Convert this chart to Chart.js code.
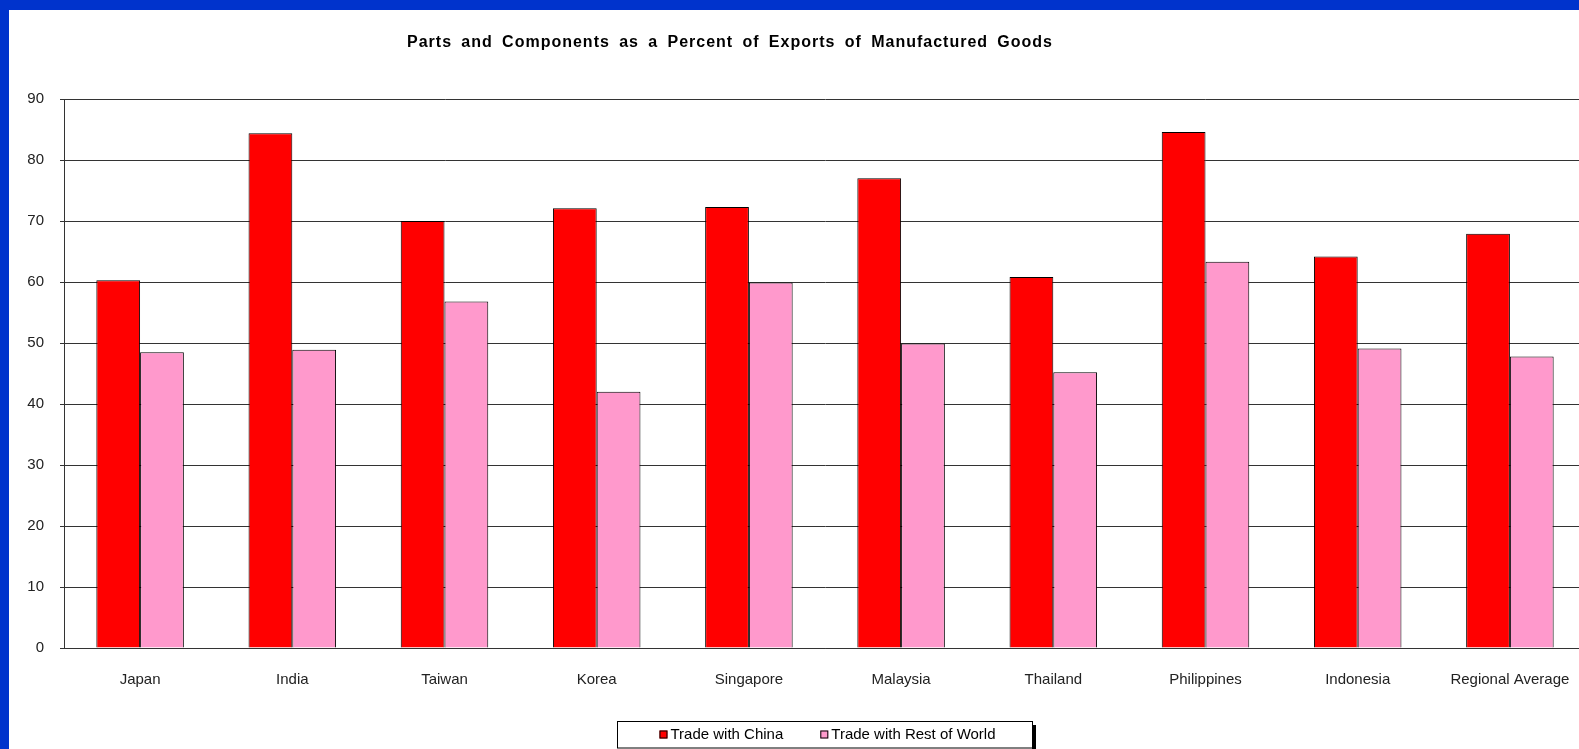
<!DOCTYPE html>
<html>
<head>
<meta charset="utf-8">
<title>Parts and Components</title>
<script src="https://cdn.jsdelivr.net/npm/chart.js@4.4.1/dist/chart.umd.min.js"></script>
<style>
  html, body { margin: 0; padding: 0; background: #0033cc; overflow: hidden; }
  #wrap { position: absolute; left: 9px; top: 10px; width: 1577px; height: 739px; background: #fff; }
</style>
</head>
<body>
<div id="wrap"><canvas id="barChart"></canvas></div>
<script>
const chartTitle = 'Parts and Components as a Percent of Exports of Manufactured Goods';
const categories = ['Japan', 'India', 'Taiwan', 'Korea', 'Singapore', 'Malaysia', 'Thailand', 'Philippines', 'Indonesia', 'Regional Average'];
const seriesNames = ['Trade with China', 'Trade with Rest of World'];
const tradeWithChina = [60.3, 84.4, 70.0, 72.1, 72.3, 77.0, 60.8, 84.6, 64.2, 67.9];
const tradeWithRest = [48.5, 48.9, 56.8, 42.0, 59.9, 49.9, 45.2, 63.3, 49.1, 47.8];
const yMin = 0, yMax = 90, yStep = 10;

const FONT = '"Liberation Sans", Arial, sans-serif';

// title text and the boxed legend under the axis
const extras = {
    id: 'extras',
    afterDraw(chart) {
        const ctx = chart.ctx;
        ctx.save();
        ctx.font = 'bold 16px ' + FONT;
        ctx.fillStyle = '#000';
        ctx.textBaseline = 'alphabetic';
        ctx.textAlign = 'left';
        const titleWidth = 646;
        ctx.letterSpacing = '1px';
        const w = ctx.measureText(chartTitle).width;
        const spaces = chartTitle.split(' ').length - 1;
        ctx.wordSpacing = Math.max(0, (titleWidth - w) / spaces).toFixed(2) + 'px';
        ctx.fillText(chartTitle, 721 - titleWidth / 2, 36.5);
        ctx.letterSpacing = '0px';
        ctx.wordSpacing = '0px';

        // legend frame
        const bx = 608, by = 711, bw = 415, bh = 26.5;
        ctx.fillStyle = '#000';
        ctx.fillRect(bx + bw, by + 4, 4, 40);
        ctx.fillStyle = '#fff';
        ctx.fillRect(bx, by, bw, bh);
        ctx.strokeStyle = '#000';
        ctx.lineWidth = 1;
        ctx.strokeRect(bx + 0.5, by + 0.5, bw, bh);

        ctx.font = '15px ' + FONT;
        ctx.textBaseline = 'middle';
        const gap = 37;
        const items = chart.data.datasets.map(ds => ({
            label: ds.label, color: ds.backgroundColor, tw: ctx.measureText(ds.label).width
        }));
        const total = items.reduce((s, it) => s + 11 + it.tw, 0) + gap * (items.length - 1);
        let x = bx + (bw - total) / 2 + 3;
        const cy = by + 13.5;
        items.forEach(it => {
            ctx.fillStyle = it.color;
            ctx.fillRect(x, cy - 4, 8, 8);
            ctx.strokeStyle = '#000';
            ctx.strokeRect(x + 0.5, cy - 3.5, 7, 7);
            ctx.fillStyle = '#000';
            ctx.fillText(it.label, x + 11, cy);
            x += 11 + it.tw + gap;
        });
        ctx.restore();
    }
};

const ctx = document.getElementById('barChart').getContext('2d');
const barChart = new Chart(ctx, {
    type: 'bar',
    data: {
        labels: categories,
        datasets: [{
            label: seriesNames[0],
            data: tradeWithChina,
            backgroundColor: '#ff0000',
            borderColor: '#000',
            borderWidth: 1,
        }, {
            label: seriesNames[1],
            data: tradeWithRest,
            backgroundColor: '#ff99cc',
            borderColor: '#000',
            borderWidth: 1,
        }],
    },
    options: {
        responsive: true,
        maintainAspectRatio: false,
        animation: false,
        layout: { padding: { top: 89, left: 0, right: 0, bottom: 0 } },
        datasets: { bar: { categoryPercentage: 0.575, barPercentage: 1.0 } },
        plugins: {
            legend: { display: false },
            title: { display: false },
            tooltip: { enabled: false },
        },
        scales: {
            x: {
                grid: { display: false, drawTicks: false },
                border: { display: true, color: '#333', width: 1 },
                ticks: { color: '#222', font: { family: FONT, size: 15 }, padding: 23, maxRotation: 0, autoSkip: false },
                afterFit(scale) {
                    scale.height = 101;
                    // plot runs right to the edge, no room kept for label overhang
                    scale.paddingLeft = 0;
                    scale.paddingRight = 0;
                },
            },
            y: {
                min: yMin,
                max: yMax,
                ticks: { stepSize: yStep, color: '#222', font: { family: FONT, size: 15 }, padding: 16 },
                grid: { color: '#333', lineWidth: 1, tickLength: 4 },
                border: { display: true, color: '#333', width: 1 },
                afterFit(scale) { scale.width = 55; },
            },
        },
    },
    plugins: [extras],
});
</script>
</body>
</html>
